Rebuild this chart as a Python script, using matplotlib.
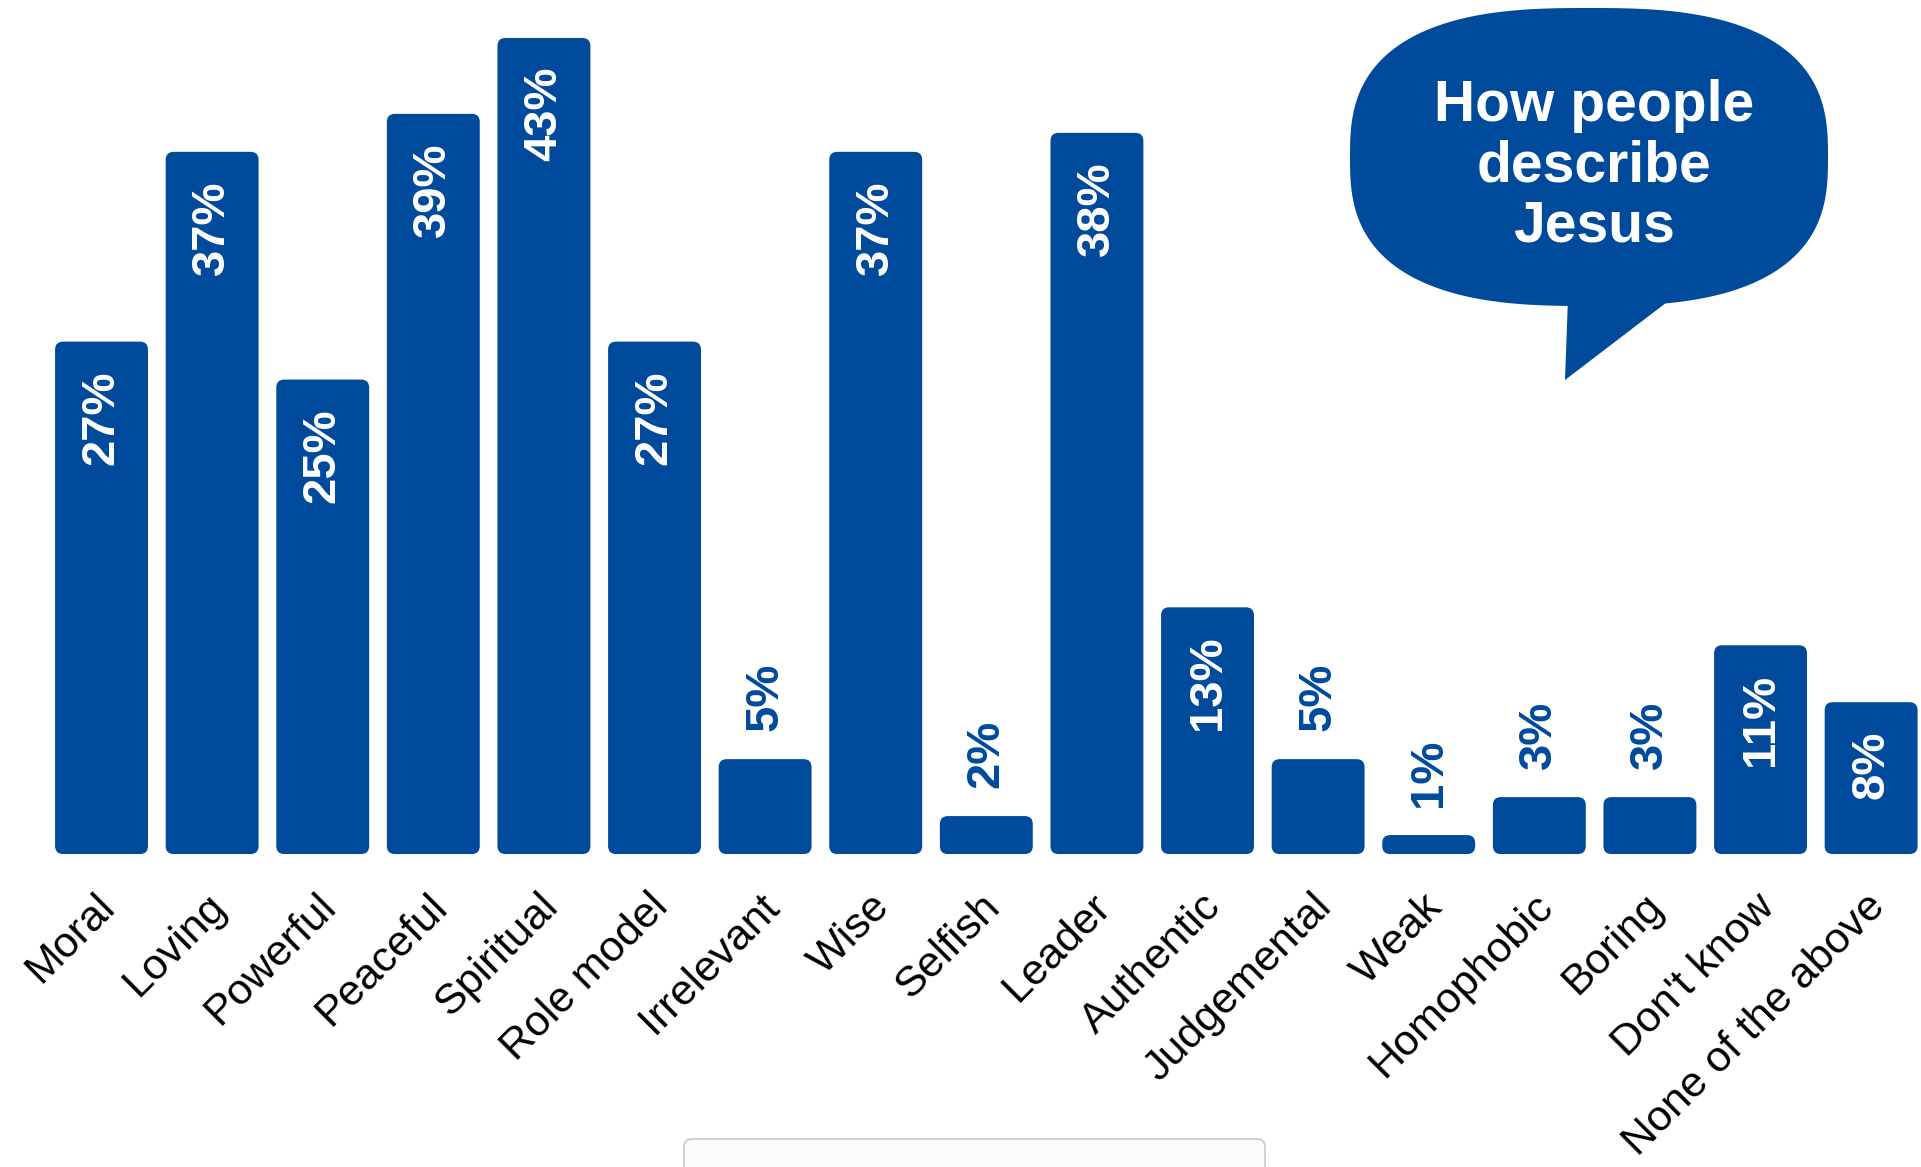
import matplotlib
matplotlib.use("Agg")
import matplotlib.pyplot as plt
from matplotlib.patches import FancyBboxPatch, Polygon
import numpy as np

plt.rcParams['font.family'] = ['Liberation Sans', 'DejaVu Sans']

labels = ["Moral", "Loving", "Powerful", "Peaceful", "Spiritual", "Role model",
          "Irrelevant", "Wise", "Selfish", "Leader", "Authentic", "Judgemental",
          "Weak", "Homophobic", "Boring", "Don't know", "None of the above"]
values = [27, 37, 25, 39, 43, 27, 5, 37, 2, 38, 13, 5, 1, 3, 3, 11, 8]

blue = "#004A9C"
W, H = 1921, 1167

fig = plt.figure(figsize=(W / 100, H / 100), dpi=100)
ax = fig.add_axes([0, 0, 1, 1])
ax.set_xlim(-0.918, 16.451)
ax.set_ylim(-16.49, 45.0)
ax.axis("off")

# rounded bars: x units vs y units differ, so keep corners circular
px_x = W / (16.451 + 0.918)
px_y = H / (45.0 + 16.49)
aspect = px_x / px_y
bw = 0.84
r = 8 / px_x
for i, (lab, v) in enumerate(zip(labels, values)):
    ax.add_patch(FancyBboxPatch((i - bw / 2, 0), bw, v,
                                boxstyle=f"round,pad=0,rounding_size={r}",
                                mutation_aspect=aspect,
                                fc=blue, ec="none"))
    if v >= 8:
        ax.text(i, v - 1.5, f"{v}%", rotation=90, ha="center", va="top",
                color="white", fontsize=34, fontweight="bold")
    else:
        ax.text(i, v + 1.5, f"{v}%", rotation=90, ha="center", va="bottom",
                color=blue, fontsize=34, fontweight="bold")
    ax.text(i - 0.06, -1.7, lab, rotation=45, rotation_mode="anchor",
            ha="right", va="top", fontsize=31, color="black")

# speech bubble in pixel coordinates
ov = fig.add_axes([0, 0, 1, 1], facecolor="none")
ov.set_xlim(0, W)
ov.set_ylim(H, 0)
ov.axis("off")

t = np.linspace(0, 2 * np.pi, 400)
n = 2.7
cx, cy, a, b = 1589, 157, 239, 149
bx = cx + a * np.sign(np.cos(t)) * np.abs(np.cos(t)) ** (2 / n)
by = cy + b * np.sign(np.sin(t)) * np.abs(np.sin(t)) ** (2 / n)
ov.fill(bx, by, color=blue, lw=0)
ov.add_patch(Polygon([[1569, 270], [1692, 283], [1565, 380]], closed=True,
                     fc=blue, ec="none"))
ov.text(1594, 166, "How people\ndescribe\nJesus", ha="center", va="center",
        color="white", fontsize=41, fontweight="bold", linespacing=1.15)

# faint panel peeking in at the bottom
ov.add_patch(FancyBboxPatch((684, 1139), 581, 60,
                            boxstyle="round,pad=0,rounding_size=8",
                            fc="#fbfbfb", ec="#c8c8c8", lw=1.2))

fig.savefig("out.png", dpi=100, facecolor="white")
